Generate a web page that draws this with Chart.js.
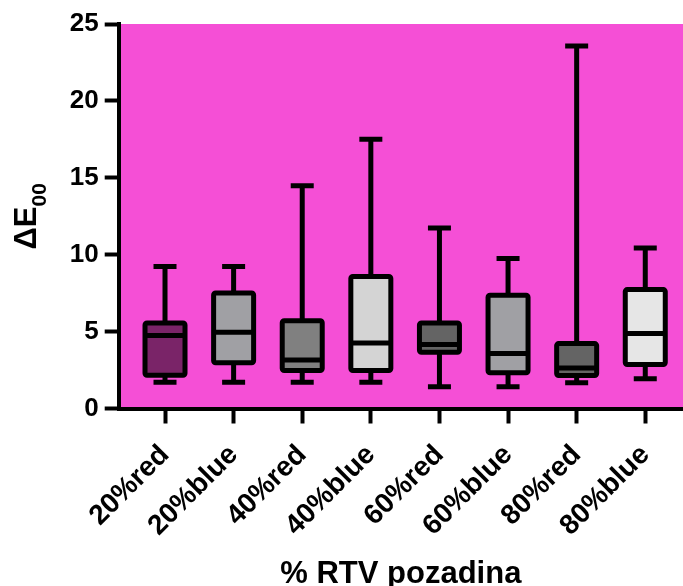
<!DOCTYPE html>
<html><head><meta charset="utf-8">
<script src="https://cdn.jsdelivr.net/npm/chart.js@4"></script>
<style>html,body{margin:0;padding:0;background:#fff}#wrap{width:683px;height:586px}</style>
</head><body><div id="wrap"><canvas id="c" width="683" height="586"></canvas></div>
<script>
const categories = ['20%red','20%blue','40%red','40%blue','60%red','60%blue','80%red','80%blue'];
const whiskerMin = [1.71, 1.71, 1.71, 1.71, 1.41, 1.41, 1.67, 1.93];
const quartile1  = [2.16, 2.97, 2.47, 2.47, 3.66, 2.32, 2.14, 2.86];
const medians    = [4.74, 4.96, 3.16, 4.26, 4.16, 3.57, 2.64, 4.87];
const quartile3  = [5.56, 7.51, 5.71, 8.59, 5.56, 7.36, 4.22, 7.73];
const whiskerMax = [9.24, 9.24, 14.48, 17.5, 11.73, 9.76, 23.57, 10.43];
const yTickValues = [0, 5, 10, 15, 20, 25];
const boxColors = ['#7A2468','#A0A0A4','#808080','#D4D4D4','#646464','#A0A0A4','#646464','#E6E6E6'];
const plotBg = '#F54FD6';
const yTitleMain = 'ΔE';
const yTitleSub = '00';
const xTitle = '% RTV pozadina';

const FONT = "'Liberation Sans', Arial, sans-serif";

const bgPlugin = {
  id: 'bg',
  beforeDraw(chart) {
    const {ctx, chartArea: a} = chart;
    ctx.save();
    ctx.fillStyle = plotBg;
    ctx.fillRect(a.left, a.top, a.right - a.left, a.bottom - a.top);
    ctx.restore();
  }
};

const yTitlePlugin = {
  id: 'ytitle',
  afterDraw(chart) {
    const {ctx, chartArea: a} = chart;
    ctx.save();
    ctx.fillStyle = '#000';
    ctx.font = 'bold 31px ' + FONT;
    const w1 = ctx.measureText(yTitleMain).width;
    ctx.font = 'bold 21px ' + FONT;
    const w2 = ctx.measureText(yTitleSub).width;
    const total = w1 + w2;
    ctx.translate(36, (a.top + a.bottom) / 2);
    ctx.rotate(-Math.PI / 2);
    ctx.textBaseline = 'alphabetic';
    ctx.textAlign = 'left';
    ctx.font = 'bold 31px ' + FONT;
    ctx.fillText(yTitleMain, -total / 2, 0);
    ctx.font = 'bold 21px ' + FONT;
    ctx.fillText(yTitleSub, -total / 2 + w1, 10);
    ctx.restore();
  }
};

const boxPlugin = {
  id: 'boxes',
  afterDatasetsDraw(chart) {
    const ctx = chart.ctx;
    const xs = chart.scales.x, ys = chart.scales.y;
    const meta = chart.getDatasetMeta(0);
    ctx.save();
    ctx.strokeStyle = '#000';
    ctx.lineWidth = 5;
    ctx.lineCap = 'butt';
    categories.forEach((c, i) => {
      const x = xs.getPixelForValue(i);
      const hw = meta.data[i].width / 2;
      const capW = 11.5;
      const yMin = ys.getPixelForValue(whiskerMin[i]);
      const yQ1 = ys.getPixelForValue(quartile1[i]);
      const yMed = ys.getPixelForValue(medians[i]);
      const yQ3 = ys.getPixelForValue(quartile3[i]);
      const yMax = ys.getPixelForValue(whiskerMax[i]);
      ctx.beginPath();
      ctx.moveTo(x, yQ3); ctx.lineTo(x, yMax);
      ctx.moveTo(x - capW, yMax); ctx.lineTo(x + capW, yMax);
      ctx.moveTo(x, yQ1); ctx.lineTo(x, yMin);
      ctx.moveTo(x - capW, yMin); ctx.lineTo(x + capW, yMin);
      ctx.stroke();
      ctx.beginPath();
      ctx.moveTo(x - hw, yMed); ctx.lineTo(x + hw, yMed);
      ctx.stroke();
      ctx.beginPath();
      ctx.roundRect(x - hw, yQ3, hw * 2, yQ1 - yQ3, 2);
      ctx.stroke();
    });
    ctx.restore();
  }
};

new Chart(document.getElementById('c'), {
  type: 'bar',
  data: {
    datasets: [{
      data: categories.map((c, i) => ({x: i, y: [quartile1[i], quartile3[i]]})),
      backgroundColor: boxColors,
      borderWidth: 0,
      barThickness: 40
    }]
  },
  options: {
    responsive: false,
    animation: false,
    layout: {padding: {top: 24, left: 0, right: 0, bottom: 0}},
    plugins: {legend: {display: false}, tooltip: {enabled: false}},
    scales: {
      x: {
        type: 'linear',
        offset: false,
        min: -0.675,
        max: 7.55,
        grid: {display: true, offset: false, drawOnChartArea: false, drawTicks: true, tickLength: 15, tickWidth: 4, tickColor: '#000'},
        border: {display: true, color: '#000', width: 4},
        ticks: {
          autoSkip: false, maxRotation: 45, minRotation: 45, color: '#000', padding: 15,
          font: {family: FONT, size: 28, weight: 'bold'},
          callback: v => categories[v] !== undefined ? categories[v] : ''
        },
        afterBuildTicks: axis => { axis.ticks = categories.map((c, i) => ({value: i})); },
        afterFit: s => { s.paddingLeft = 0; s.paddingRight = 0; s.height = 586 - 408.5; },
        title: {display: true, text: xTitle, color: '#000', font: {family: FONT, size: 31, weight: 'bold'}, padding: {top: 0, bottom: -7}}
      },
      y: {
        min: 0, max: 25,
        grid: {display: true, drawOnChartArea: false, drawTicks: true, tickLength: 14, tickWidth: 4, tickColor: '#000'},
        border: {display: true, color: '#000', width: 4},
        ticks: {color: '#000', padding: 6, font: {family: FONT, size: 26, weight: 'bold'}},
        afterBuildTicks: axis => { axis.ticks = yTickValues.map(v => ({value: v})); },
        afterFit: s => { s.width = 118.7; s.paddingTop = 0; s.paddingBottom = 0; },
        title: {display: false}
      }
    }
  },
  plugins: [bgPlugin, boxPlugin, yTitlePlugin]
});
</script></body></html>
